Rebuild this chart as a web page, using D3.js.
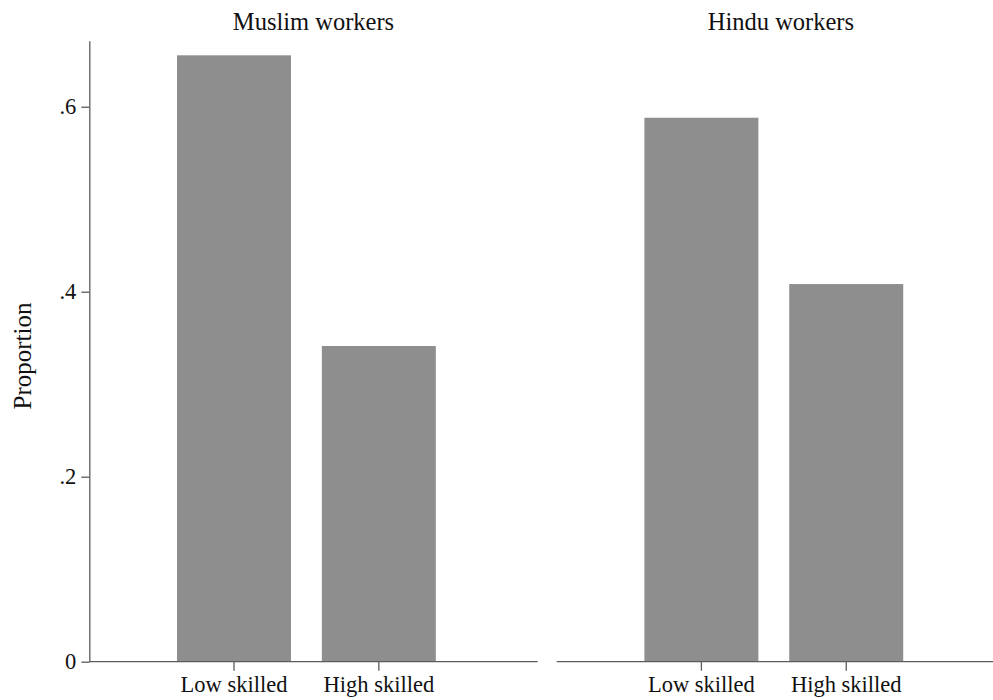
<!DOCTYPE html>
<html>
<head>
<meta charset="utf-8">
<script src="https://cdn.jsdelivr.net/npm/d3@7"></script>
<style>
  html, body { margin: 0; padding: 0; background: #fff; }
  svg { display: block; }
</style>
</head>
<body>
<svg id="chart" width="993" height="700"></svg>
<script>
// Share of workers by skill level, split by religion
const groups = ["Muslim workers", "Hindu workers"];
const skills = ["Low skilled", "High skilled"];
const muslimValues = [0.6556, 0.3413];
const hinduValues = [0.5881, 0.4083];
const yTicks = [0, 0.2, 0.4, 0.6];
const yTitle = "Proportion";

const seriesByGroup = [muslimValues, hinduValues];

const serif = "'Liberation Serif', 'Times New Roman', Times, serif";
const svg = d3.select("#chart");

const baseY = 661.7, topY = 40.7;
const y = d3.scaleLinear().domain([0, 0.6714]).range([baseY, topY]);

// two equal-width panels; the second runs past the right edge
const panelW = 448.4;
const panelX = [89.3, 556.7];

const axisColor = "#5c5c5c";
const barColor = "#8e8e8e";

const fmt = d => d === 0 ? "0" : d3.format(".1f")(d).replace(/^0/, "");

groups.forEach((g, gi) => {
  const x0 = panelX[gi];
  const x = d3.scaleBand()
    .domain(skills)
    .range([x0 + 0.1956 * panelW, x0 + 0.7728 * panelW])
    .paddingInner(0.213)
    .paddingOuter(0);

  const panel = svg.append("g");

  // bars
  panel.selectAll("rect")
    .data(skills.map((s, i) => ({ skill: s, value: seriesByGroup[gi][i] })))
    .join("rect")
    .attr("x", d => x(d.skill))
    .attr("width", x.bandwidth())
    .attr("y", d => y(d.value))
    .attr("height", d => y(0) - y(d.value))
    .attr("fill", barColor);

  // bottom axis spanning the panel
  panel.append("line")
    .attr("x1", x0).attr("x2", x0 + panelW)
    .attr("y1", baseY).attr("y2", baseY)
    .attr("stroke", axisColor).attr("stroke-width", 1.3);

  const xAxis = d3.axisBottom(x).tickSize(9).tickPadding(5).tickSizeOuter(0);
  const gx = panel.append("g")
    .attr("transform", `translate(0,${baseY})`)
    .call(xAxis);
  gx.select(".domain").remove();
  gx.selectAll(".tick line").attr("stroke", axisColor).attr("stroke-width", 1.3);
  gx.selectAll(".tick text")
    .style("font-family", serif)
    .style("font-size", "22.5px")
    .attr("fill", "#111");

  // panel title
  svg.append("text")
    .attr("x", x0 + panelW / 2)
    .attr("y", 30)
    .attr("text-anchor", "middle")
    .style("font-family", serif)
    .style("font-size", "24.5px")
    .attr("fill", "#111")
    .text(g);
});

// y axis on the first panel
const yAxis = d3.axisLeft(y).tickValues(yTicks).tickFormat(fmt).tickSize(8).tickPadding(5).tickSizeOuter(0);
const gy = svg.append("g")
  .attr("transform", `translate(${panelX[0]},0)`)
  .call(yAxis);
gy.select(".domain").attr("stroke", axisColor).attr("stroke-width", 1.3);
gy.selectAll(".tick line").attr("stroke", axisColor).attr("stroke-width", 1.3);
gy.selectAll(".tick text")
  .style("font-family", serif)
  .style("font-size", "22.5px")
  .attr("fill", "#111");

// y title
svg.append("text")
  .attr("transform", `translate(31,356) rotate(-90)`)
  .attr("text-anchor", "middle")
  .style("font-family", serif)
  .style("font-size", "25px")
  .attr("fill", "#111")
  .text(yTitle);
</script>
</body>
</html>
